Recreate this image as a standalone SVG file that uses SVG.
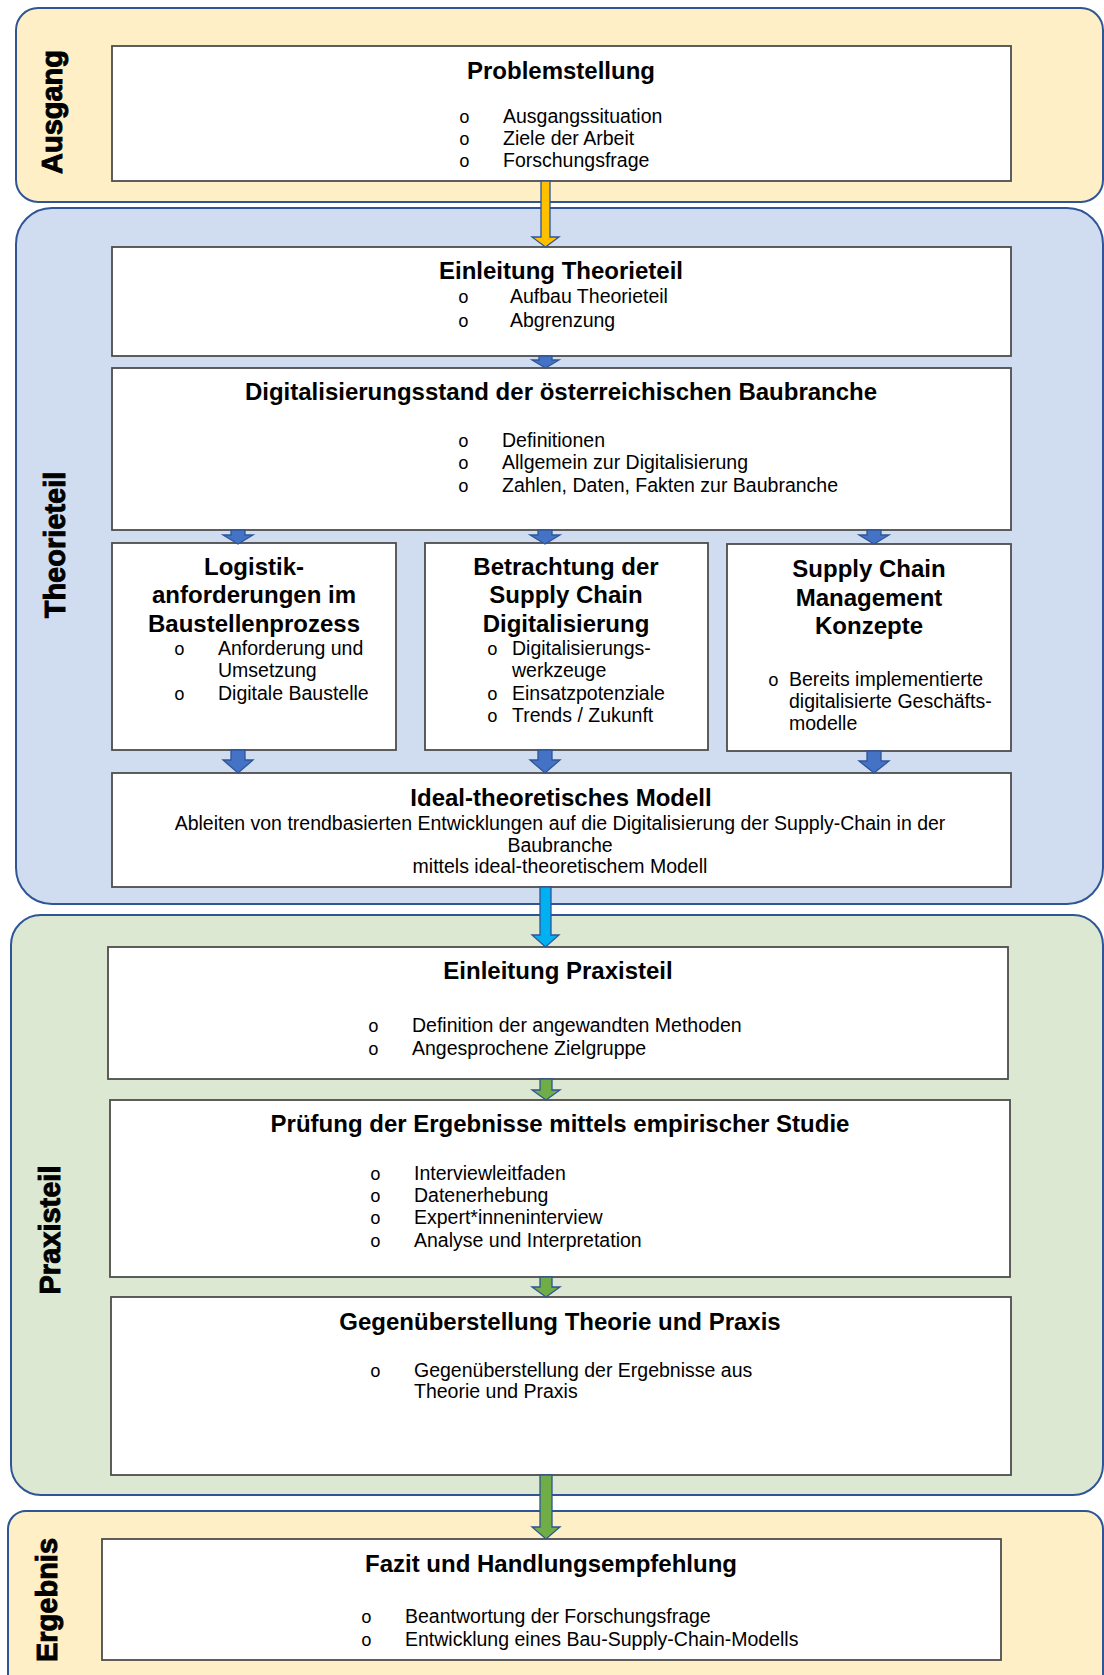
<svg xmlns="http://www.w3.org/2000/svg" width="1104" height="1675" viewBox="0 0 1104 1675">
  <style>
    text { font-family: "Liberation Sans", Arial, sans-serif; fill: #000; }
    .lane { stroke: #2F5597; stroke-width: 2; }
    .yellow { fill: #FFEFC6; }
    .blue { fill: #D0DCF0; }
    .green { fill: #DCE8D2; }
    .box { fill: #FFFFFF; stroke: #4D4D4D; stroke-width: 1.8; }
    .lbl { font-size: 29px; font-weight: bold; text-anchor: middle; stroke: #000; stroke-width: 0.9; }
    .title { font-size: 24px; font-weight: bold; text-anchor: middle; }
    .body { font-size: 19.5px; }
    .mid { text-anchor: middle; }
    .bul { font-family: "Liberation Mono", "Courier New", monospace; font-size: 18px; }
    .arr { stroke: #2F5597; stroke-width: 1.3; stroke-linejoin: miter; }
    .a-or { fill: #FFC000; }
    .a-bl { fill: #4472C4; }
    .a-cy { fill: #00B0F0; }
    .a-gr { fill: #70AD47; }
  </style>

  <!-- swimlanes -->
  <g id="lanes">
    <rect id="lane-ausgang" class="lane yellow" x="16" y="8" width="1087" height="194" rx="22" ry="22"/>
    <rect id="lane-theorie" class="lane blue" x="16" y="208" width="1087" height="696" rx="36" ry="36"/>
    <rect id="lane-praxis" class="lane green" x="11" y="915" width="1092" height="580" rx="30" ry="30"/>
    <rect id="lane-ergebnis" class="lane yellow" x="8" y="1511" width="1095" height="185" rx="18" ry="18"/>
    <text class="lbl" transform="translate(62,112) rotate(-90)">Ausgang</text>
    <text class="lbl" transform="translate(65,545) rotate(-90)">Theorieteil</text>
    <text class="lbl" transform="translate(60,1230) rotate(-90)">Praxisteil</text>
    <text class="lbl" transform="translate(57,1600) rotate(-90)">Ergebnis</text>
  </g>

  <!-- Ausgang -->
  <g id="problemstellung">
    <rect class="box" x="112" y="46" width="899" height="135"/>
    <text class="title" x="561" y="79">Problemstellung</text>
    <text class="bul" x="459" y="123">o</text><text class="body" x="503" y="123">Ausgangssituation</text>
    <text class="bul" x="459" y="145">o</text><text class="body" x="503" y="145">Ziele der Arbeit</text>
    <text class="bul" x="459" y="167">o</text><text class="body" x="503" y="167">Forschungsfrage</text>
  </g>

  <!-- Theorieteil -->
  <g id="einleitung-theorie">
    <rect class="box" x="112" y="247" width="899" height="109"/>
    <text class="title" x="561" y="279">Einleitung Theorieteil</text>
    <text class="bul" x="458" y="303">o</text><text class="body" x="510" y="303">Aufbau Theorieteil</text>
    <text class="bul" x="458" y="327">o</text><text class="body" x="510" y="327">Abgrenzung</text>
  </g>

  <g id="digitalisierungsstand">
    <rect class="box" x="112" y="368" width="899" height="162"/>
    <text class="title" x="561" y="400">Digitalisierungsstand der österreichischen Baubranche</text>
    <text class="bul" x="458" y="447">o</text><text class="body" x="502" y="447">Definitionen</text>
    <text class="bul" x="458" y="469">o</text><text class="body" x="502" y="469">Allgemein zur Digitalisierung</text>
    <text class="bul" x="458" y="492">o</text><text class="body" x="502" y="492">Zahlen, Daten, Fakten zur Baubranche</text>
  </g>

  <g id="logistik">
    <rect class="box" x="112" y="543" width="284" height="207"/>
    <text class="title" x="254" y="575">Logistik-</text>
    <text class="title" x="254" y="603">anforderungen im</text>
    <text class="title" x="254" y="632">Baustellenprozess</text>
    <text class="bul" x="174" y="655">o</text><text class="body" x="218" y="655">Anforderung und</text>
    <text class="body" x="218" y="677">Umsetzung</text>
    <text class="bul" x="174" y="700">o</text><text class="body" x="218" y="700">Digitale Baustelle</text>
  </g>

  <g id="betrachtung">
    <rect class="box" x="425" y="543" width="283" height="207"/>
    <text class="title" x="566" y="575">Betrachtung der</text>
    <text class="title" x="566" y="603">Supply Chain</text>
    <text class="title" x="566" y="632">Digitalisierung</text>
    <text class="bul" x="487" y="655">o</text><text class="body" x="512" y="655">Digitalisierungs-</text>
    <text class="body" x="512" y="677">werkzeuge</text>
    <text class="bul" x="487" y="700">o</text><text class="body" x="512" y="700">Einsatzpotenziale</text>
    <text class="bul" x="487" y="722">o</text><text class="body" x="512" y="722">Trends / Zukunft</text>
  </g>

  <g id="scm-konzepte">
    <rect class="box" x="727" y="544" width="284" height="207"/>
    <text class="title" x="869" y="577">Supply Chain</text>
    <text class="title" x="869" y="606">Management</text>
    <text class="title" x="869" y="634">Konzepte</text>
    <text class="bul" x="768" y="686">o</text><text class="body" x="789" y="686">Bereits implementierte</text>
    <text class="body" x="789" y="708">digitalisierte Geschäfts-</text>
    <text class="body" x="789" y="730">modelle</text>
  </g>

  <g id="ideal-modell">
    <rect class="box" x="112" y="773" width="899" height="114"/>
    <text class="title" x="561" y="806">Ideal-theoretisches Modell</text>
    <text class="body mid" x="560" y="830">Ableiten von trendbasierten Entwicklungen auf die Digitalisierung der Supply-Chain in der</text>
    <text class="body mid" x="560" y="852">Baubranche</text>
    <text class="body mid" x="560" y="873">mittels ideal-theoretischem Modell</text>
  </g>

  <!-- Praxisteil -->
  <g id="einleitung-praxis">
    <rect class="box" x="108" y="947" width="900" height="132"/>
    <text class="title" x="558" y="979">Einleitung Praxisteil</text>
    <text class="bul" x="368" y="1032">o</text><text class="body" x="412" y="1032">Definition der angewandten Methoden</text>
    <text class="bul" x="368" y="1055">o</text><text class="body" x="412" y="1055">Angesprochene Zielgruppe</text>
  </g>

  <g id="pruefung">
    <rect class="box" x="110" y="1100" width="900" height="177"/>
    <text class="title" x="560" y="1132">Prüfung der Ergebnisse mittels empirischer Studie</text>
    <text class="bul" x="370" y="1180">o</text><text class="body" x="414" y="1180">Interviewleitfaden</text>
    <text class="bul" x="370" y="1202">o</text><text class="body" x="414" y="1202">Datenerhebung</text>
    <text class="bul" x="370" y="1224">o</text><text class="body" x="414" y="1224">Expert*inneninterview</text>
    <text class="bul" x="370" y="1247">o</text><text class="body" x="414" y="1247">Analyse und Interpretation</text>
  </g>

  <g id="gegenueberstellung">
    <rect class="box" x="111" y="1297" width="900" height="178"/>
    <text class="title" x="560" y="1330">Gegenüberstellung Theorie und Praxis</text>
    <text class="bul" x="370" y="1377">o</text><text class="body" x="414" y="1377">Gegenüberstellung der Ergebnisse aus</text>
    <text class="body" x="414" y="1398">Theorie und Praxis</text>
  </g>

  <!-- Ergebnis -->
  <g id="fazit">
    <rect class="box" x="102" y="1539" width="899" height="121"/>
    <text class="title" x="551" y="1572">Fazit und Handlungsempfehlung</text>
    <text class="bul" x="361" y="1623">o</text><text class="body" x="405" y="1623">Beantwortung der Forschungsfrage</text>
    <text class="bul" x="361" y="1646">o</text><text class="body" x="405" y="1646">Entwicklung eines Bau-Supply-Chain-Modells</text>
  </g>

  <!-- block arrows between the steps -->
  <g id="connectors">
    <path class="arr a-or" d="M541,181 H550 V237 H559 L545.5,247 L532,237 H541 Z"/>
    <path class="arr a-bl" d="M539,356 H552 V360 H559 L545.5,368 L532,360 H539 Z"/>
    <path class="arr a-bl" d="M231,530 H245 V535 H253 L238,544 L223,535 H231 Z"/>
    <path class="arr a-bl" d="M538,530 H552 V535 H560 L545,544 L530,535 H538 Z"/>
    <path class="arr a-bl" d="M867,530 H881 V535 H889 L874,544 L859,535 H867 Z"/>
    <path class="arr a-bl" d="M231,750 H245 V760 H253 L238,773 L223,760 H231 Z"/>
    <path class="arr a-bl" d="M538,750 H552 V760 H560 L545,773 L530,760 H538 Z"/>
    <path class="arr a-bl" d="M867,751 H881 V761 H889 L874,773 L859,761 H867 Z"/>
    <path class="arr a-cy" d="M540,887 H551 V935 H559 L545.5,947 L532,935 H540 Z"/>
    <path class="arr a-gr" d="M540,1079 H552 V1090 H560 L546,1100 L532,1090 H540 Z"/>
    <path class="arr a-gr" d="M540,1277 H552 V1287 H560 L546,1297 L532,1287 H540 Z"/>
    <path class="arr a-gr" d="M540,1475 H552 V1527 H560 L546,1539 L532,1527 H540 Z"/>
  </g>
</svg>
